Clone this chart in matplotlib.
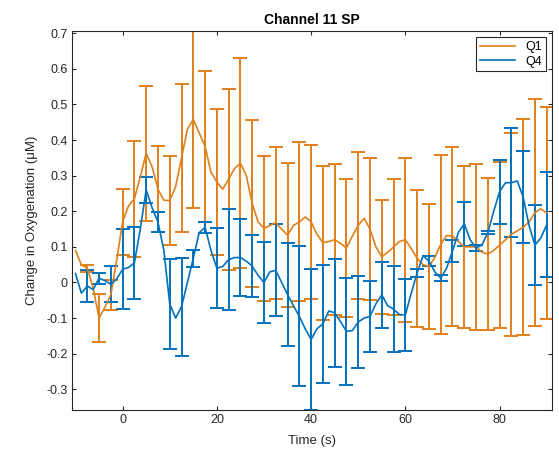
import matplotlib
matplotlib.use("Agg")
import matplotlib.pyplot as plt
import numpy as np

plt.rcParams['font.family'] = ['Liberation Sans', 'DejaVu Sans']
plt.rcParams['axes.unicode_minus'] = False

# mean traces, sampled every 1.25 s from -10 s to 90 s
t = [-10 + 1.25 * i for i in range(81)]
q1 = [0.09, 0.05, 0.04, -0.016, -0.10, -0.069, -0.035, 0.063,
      0.17, 0.215, 0.235, 0.297, 0.363, 0.325, 0.262, 0.231,
      0.23, 0.269, 0.35, 0.43, 0.458, 0.42, 0.382, 0.31,
      0.282, 0.262, 0.29, 0.32, 0.335, 0.30, 0.222, 0.17,
      0.152, 0.16, 0.168, 0.15, 0.133, 0.16, 0.17, 0.184,
      0.17, 0.135, 0.112, 0.115, 0.12, 0.11, 0.097, 0.13,
      0.16, 0.18, 0.15, 0.10, 0.072, 0.085, 0.10, 0.115,
      0.12, 0.095, 0.068, 0.05, 0.045, 0.07, 0.107, 0.132,
      0.13, 0.115, 0.10, 0.10, 0.10, 0.085, 0.08, 0.09,
      0.105, 0.12, 0.135, 0.145, 0.155, 0.17, 0.196, 0.207,
      0.195]
q4 = [0.025, -0.03, -0.01, -0.02, 0.012, 0.005, -0.005, 0.01,
      0.037, 0.042, 0.055, 0.15, 0.26, 0.21, 0.17, 0.09,
      -0.06, -0.10, -0.068, 0.0, 0.068, 0.14, 0.155, 0.09,
      0.04, 0.045, 0.064, 0.07, 0.07, 0.06, 0.046, 0.02,
      0.0, 0.03, 0.034, 0.0, -0.034, -0.065, -0.095, -0.13,
      -0.16, -0.13, -0.116, -0.08, -0.085, -0.11, -0.137, -0.135,
      -0.111, -0.10, -0.095, -0.06, -0.035, -0.065, -0.075, -0.09,
      -0.091, -0.03, 0.027, 0.075, 0.06, 0.03, 0.012, 0.04,
      0.088, 0.14, 0.165, 0.12, 0.097, 0.105, 0.14, 0.2,
      0.255, 0.28, 0.28, 0.285, 0.24, 0.16, 0.105, 0.125,
      0.162]

# error bar half-widths every 2.5 s from -7.5 s to 90 s
q1_err = [0.01, 0.068, 0.043, 0.092, 0.163, 0.19, 0.12, 0.125,
          0.208, 0.25, 0.213, 0.206, 0.254, 0.295, 0.235, 0.204,
          0.213, 0.203, 0.223, 0.215, 0.216, 0.212, 0.193, 0.205,
          0.2, 0.16, 0.19, 0.23, 0.193, 0.175, 0.252, 0.251,
          0.228, 0.234, 0.212, 0.232, 0.285, 0.303, 0.319, 0.297]
q4_err = [0.045, 0.015, 0.051, 0.112, 0.1, 0.037, 0.028, 0.127,
          0.137, 0.024, 0.015, 0.113, 0.142, 0.108, 0.087, 0.113,
          0.129, 0.144, 0.197, 0.199, 0.166, 0.152, 0.15, 0.129,
          0.1, 0.092, 0.12, 0.1, 0.012, 0.015, 0.008, 0.03,
          0.062, 0.008, 0.005, 0.09, 0.153, 0.13, 0.112, 0.147]

orange = '#E0801A'
blue = '#0072BD'

fig = plt.figure(figsize=(5.59, 4.58), dpi=100)
ax = fig.add_axes([0.1283, 0.1048, 0.859, 0.8275])

te = t[2::2]
ax.errorbar(te, q1[2::2], yerr=q1_err, fmt='none', ecolor=orange,
            elinewidth=1.4, capsize=4.8, capthick=1.4)
ax.errorbar(te, q4[2::2], yerr=q4_err, fmt='none', ecolor=blue,
            elinewidth=1.4, capsize=4.8, capthick=1.4)
ax.plot(t, q1, color=orange, lw=1.2, label='Q1')
ax.plot(t, q4, color=blue, lw=1.2, label='Q4')

ax.set_xlim(-10.8, 91.1)
ax.set_ylim(-0.358, 0.706)
ax.set_xticks([0, 20, 40, 60, 80])
yt = [-0.3, -0.2, -0.1, 0, 0.1, 0.2, 0.3, 0.4, 0.5, 0.6, 0.7]
ax.set_yticks(yt)
ax.set_yticklabels(['%g' % v for v in yt])
ax.tick_params(direction='in', top=True, right=True, length=3,
               width=0.8, colors='#262626', labelsize=9, pad=3)
for s in ax.spines.values():
    s.set_color('#262626')
    s.set_linewidth(0.8)

ax.set_title('Channel 11 SP', fontsize=10, fontweight='bold', pad=5)
ax.set_xlabel('Time (s)', fontsize=9.5, color='#262626', labelpad=6)
ax.set_ylabel('Change in Oxygenation (μM)', fontsize=9.5, color='#262626',
              labelpad=6)

leg = ax.legend(loc='upper right', fontsize=9, fancybox=False,
                edgecolor='#262626', handlelength=2.8, borderpad=0.3,
                labelspacing=0.2, framealpha=1)
leg.get_frame().set_linewidth(0.8)

fig.savefig('out.png', dpi=100)
